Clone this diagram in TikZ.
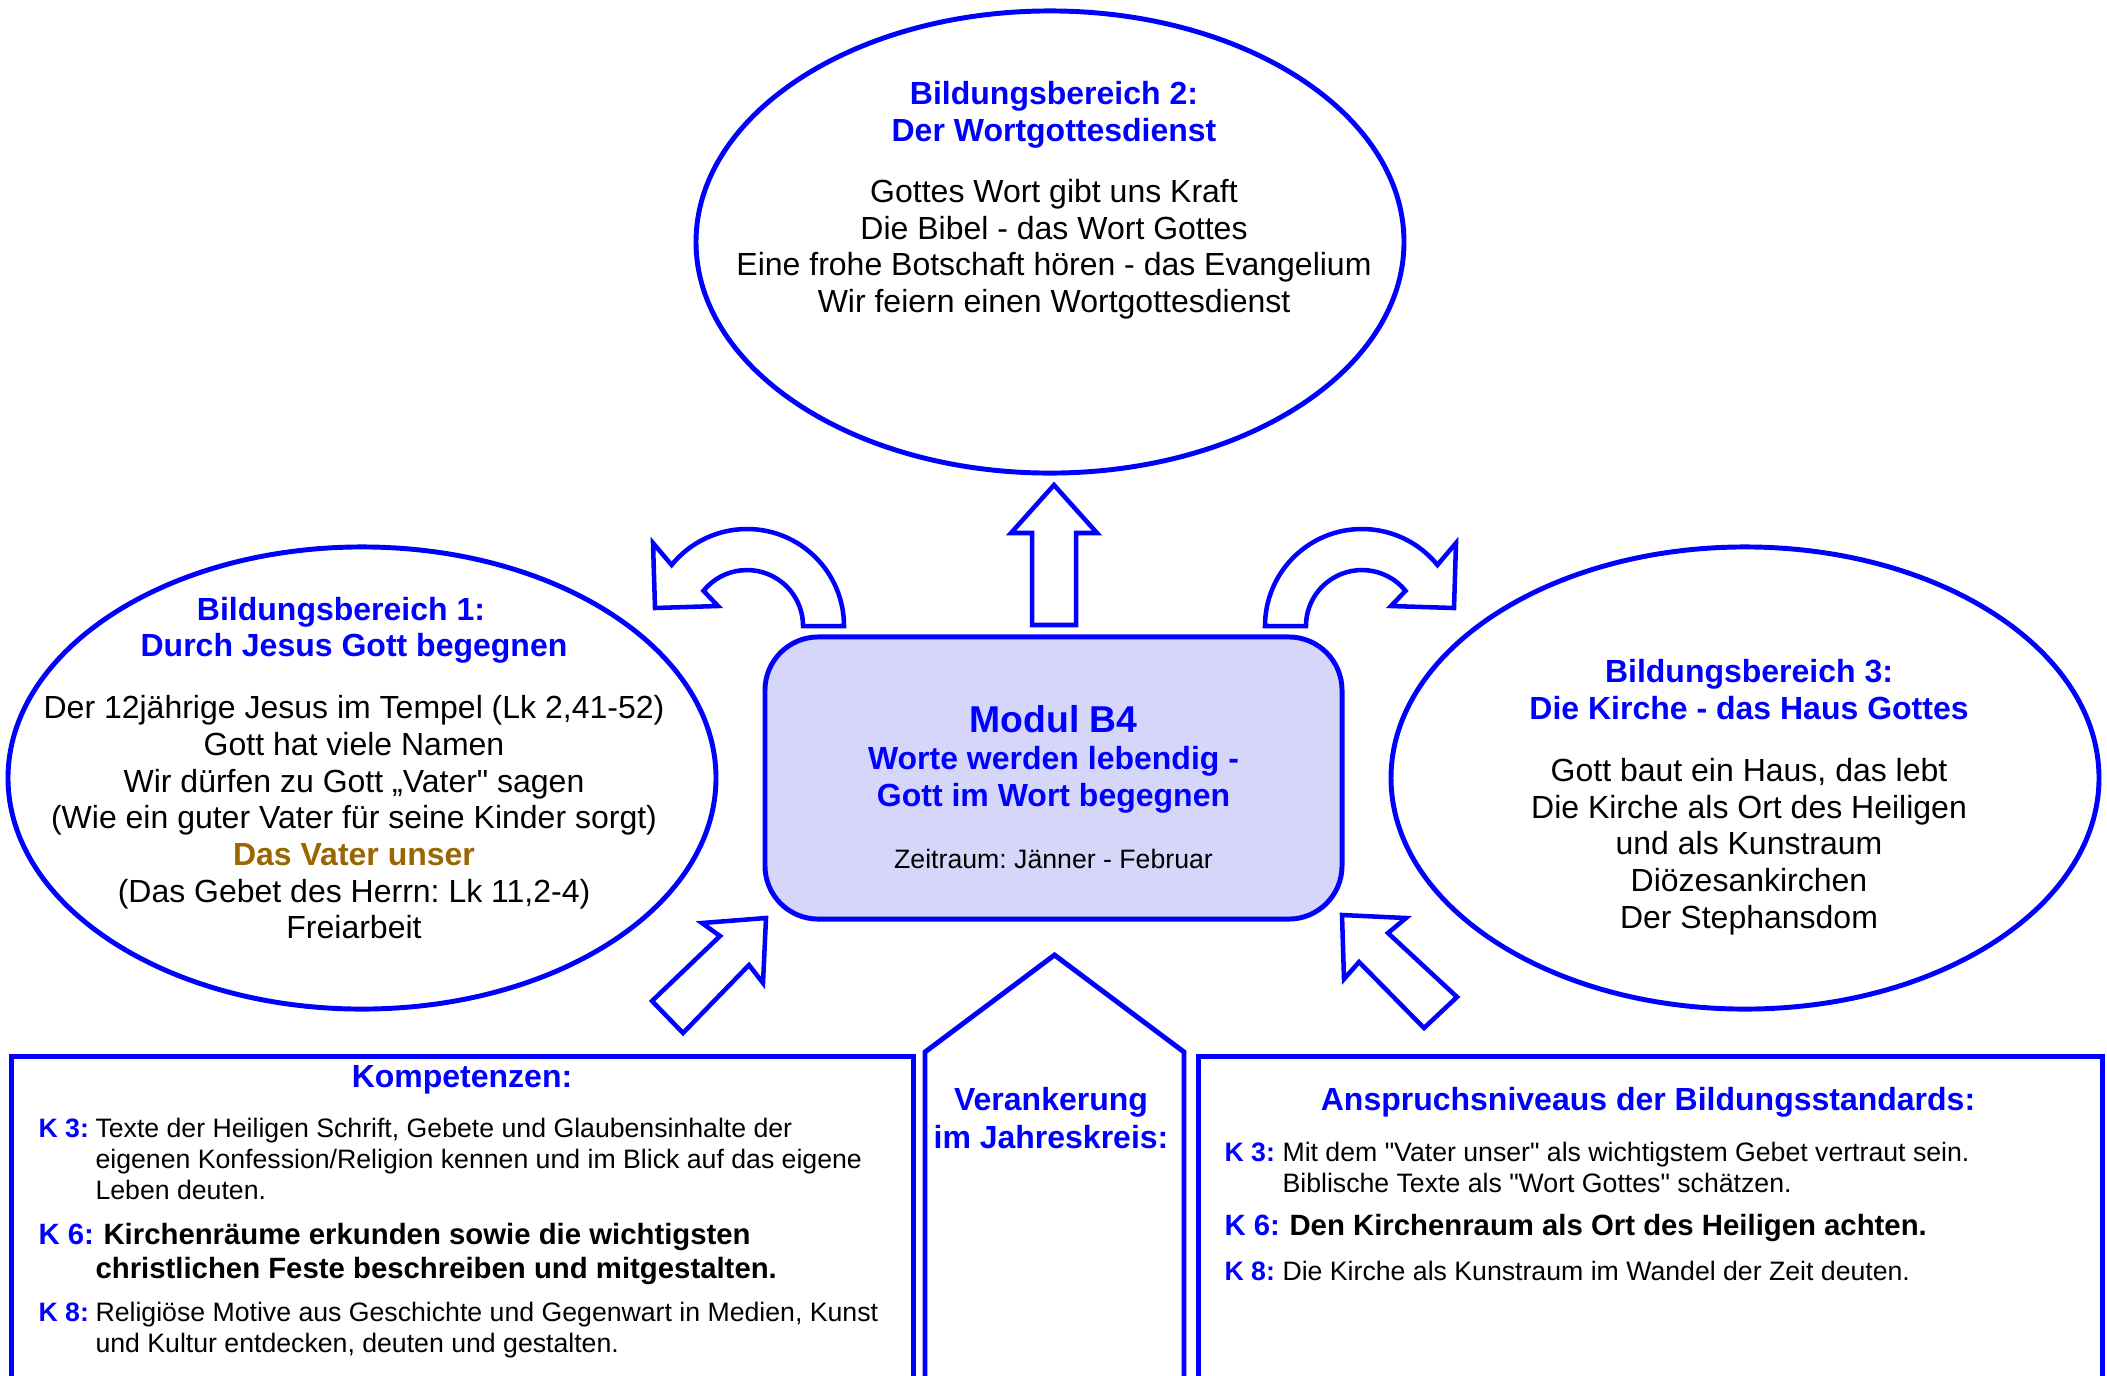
\documentclass[tikz,border=0pt]{standalone}
\usepackage{fontspec}
\setmainfont{Liberation Sans}
\usetikzlibrary{shapes.geometric}
\definecolor{bblue}{RGB}{0,0,255}
\definecolor{bbrown}{RGB}{153,102,0}
\definecolor{modfill}{RGB}{214,214,250}
\newcommand\TxtBody{\fontsize{12}{14}\selectfont}
\newcommand\TxtHead{\fontsize{12}{14}\selectfont\bfseries}
\newcommand\TxtSmall{\fontsize{10}{12}\selectfont}
\newcommand\TxtKey{\fontsize{11}{13}\selectfont\bfseries}
% straight double quote, taken as a glyph so the text mapping keeps it straight
\newcommand\qq{\XeTeXglyph\XeTeXcharglyph"22\relax}
\frenchspacing
\tikzset{
  outline/.style={draw=bblue, line width=1.85pt},
  area/.style={ellipse, outline, inner sep=0pt, minimum width=265.5pt, minimum height=173.3pt},
  blockarrow/.style={outline, line width=1.7pt, fill=white, line join=miter},
  panel/.style={outline, anchor=north west, inner sep=0pt, minimum height=160pt},
  txt/.style={anchor=base, inner sep=0pt, font=\TxtBody},
  head/.style={anchor=base, inner sep=0pt, font=\TxtHead, text=bblue},
  ktxt/.style={anchor=base west, inner sep=0pt, font=\TxtSmall},
  kbold/.style={anchor=base west, inner sep=0pt, font=\TxtKey},
  klabel/.style={anchor=base west, inner sep=0pt, text=bblue, font=\TxtSmall\bfseries},
  klabelbig/.style={anchor=base west, inner sep=0pt, text=bblue, font=\TxtKey},
}
\begin{document}
\begin{tikzpicture}[x=0.375pt, y=-0.375pt]
\useasboundingbox (0,0) rectangle (2107,1375);
\fill[white] (0,0) rectangle (2107,1375);
\clip (0,0) rectangle (2107,1375);

% the three areas of education
\node[area] (bb2) at (1050,242) {};
\node[area] (bb1) at (362,778) {};
\node[area] (bb3) at (1745,778) {};

% the module in the middle
\node[outline, fill=modfill, rounded corners=20pt, inner sep=0pt,
      minimum width=216.4pt, minimum height=105.8pt] (modul) at (1053.5,778) {};

% block arrows around the module
\draw[blockarrow] (1032,625) -- (1032,533) -- (1011,533) -- (1054,485)
  -- (1097,533) -- (1076,533) -- (1076,625) -- cycle;
\draw[blockarrow] (844,626) arc[start angle=0, end angle=-141, radius=97]
  -- (653,543) -- (655,608) -- (718,606) -- (703.5,590.8)
  arc[start angle=-141, end angle=0, radius=56] -- cycle;
\draw[blockarrow] (1265,626) arc[start angle=180, end angle=321, radius=97]
  -- (1456,543) -- (1454,608) -- (1391,606) -- (1405.5,590.8)
  arc[start angle=321, end angle=180, radius=56] -- cycle;
\draw[blockarrow] (766,918) -- (702,923) -- (720,936) -- (652,1001)
  -- (683,1033) -- (749,965) -- (763,983) -- cycle;
\draw[blockarrow] (1342,915) -- (1406,918) -- (1388,933) -- (1457,997)
  -- (1424,1028) -- (1359,962) -- (1344,979) -- cycle;

% lower panels
\node[panel, minimum width=338.3pt] (komp) at (9,1054) {};
\node[panel, minimum width=339pt] (niveau) at (1196,1054) {};
\coordinate (jk-l) at (925,1420);
\coordinate (jk-r) at (1184,1420);
\coordinate (jk-top) at (1054.5,955);
\draw[outline, line join=miter] (jk-l) -- (925,1052) -- (jk-top) -- (1184,1052) -- (jk-r);

% Bildungsbereich 2
\node[head] (bb2-h1) at (1054,104) {Bildungsbereich 2:};
\node[head] (bb2-h2) at (1054,141) {Der Wortgottesdienst};
\foreach \t [count=\i from 0] in {Gottes Wort gibt uns Kraft,
    Die Bibel - das Wort Gottes,
    Eine frohe Botschaft hören - das Evangelium,
    Wir feiern einen Wortgottesdienst}
  \node[txt] (bb2-\i) at (1054,202.5+36.7*\i) {\t};

% Bildungsbereich 1
\node[head] (bb1-h1) at (341,620.5) {Bildungsbereich 1:};
\node[head] (bb1-h2) at (354,656.5) {Durch Jesus Gott begegnen};
\node[txt] (bb1-0) at (354,718.5) {Der 12jährige Jesus im Tempel (Lk 2,41-52)};
\node[txt] (bb1-1) at (354,755) {Gott hat viele Namen};
\node[txt] (bb1-2) at (354,792) {Wir dürfen zu Gott „Vater\qq{} sagen};
\node[txt] (bb1-3) at (354,828.5) {(Wie ein guter Vater für seine Kinder sorgt)};
\node[txt, font=\TxtHead, text=bbrown] (bb1-4) at (354,865) {Das Vater unser};
\node[txt] (bb1-5) at (354,902) {(Das Gebet des Herrn: Lk 11,2-4)};
\node[txt] (bb1-6) at (354,938.5) {Freiarbeit};

% Bildungsbereich 3
\node[head] (bb3-h1) at (1749,682.5) {Bildungsbereich 3:};
\node[head] (bb3-h2) at (1749,719.5) {Die Kirche - das Haus Gottes};
\foreach \t [count=\i from 0] in {Gott baut ein Haus{,} das lebt,
    Die Kirche als Ort des Heiligen,
    und als Kunstraum,
    Diözesankirchen,
    Der Stephansdom}
  \node[txt] (bb3-\i) at (1749,781.5+36.7*\i) {\t};

% module title
\node[head, font=\fontsize{14}{16}\selectfont\bfseries] (mod-1) at (1053.5,732) {Modul B4};
\node[head] (mod-2) at (1053.5,769) {Worte werden lebendig -};
\node[head] (mod-3) at (1053.5,806) {Gott im Wort begegnen};
\node[txt, font=\TxtSmall] (mod-4) at (1053.5,868) {Zeitraum: Jänner - Februar};

% Kompetenzen
\node[head] (komp-h) at (462,1087) {Kompetenzen:};
\node[klabel] (k3) at (38,1137) {K 3:};
\node[ktxt] (k3-1) at (95,1137) {Texte der Heiligen Schrift, Gebete und Glaubensinhalte der};
\node[ktxt] (k3-2) at (95,1168) {eigenen Konfession/Religion kennen und im Blick auf das eigene};
\node[ktxt] (k3-3) at (95,1199) {Leben deuten.};
\node[klabelbig] (k6) at (38,1244) {K 6:};
\node[kbold] (k6-1) at (103,1244) {Kirchenräume erkunden sowie die wichtigsten};
\node[kbold] (k6-2) at (95,1278) {christlichen Feste beschreiben und mitgestalten.};
\node[klabel] (k8) at (38,1321) {K 8:};
\node[ktxt] (k8-1) at (95,1321) {Religiöse Motive aus Geschichte und Gegenwart in Medien, Kunst};
\node[ktxt] (k8-2) at (95,1352) {und Kultur entdecken, deuten und gestalten.};

% Jahreskreis
\node[head] (jk-1) at (1051,1110) {Verankerung};
\node[head] (jk-2) at (1051,1148) {im Jahreskreis:};

% Anspruchsniveaus
\node[head] (niv-h) at (1648,1110) {Anspruchsniveaus der Bildungsstandards:};
\node[klabel] (n3) at (1224,1161) {K 3:};
\node[ktxt] (n3-1) at (1282,1161) {Mit dem \qq{}Vater unser\qq{} als wichtigstem Gebet vertraut sein.};
\node[ktxt] (n3-2) at (1282,1192) {Biblische Texte als \qq{}Wort Gottes\qq{} schätzen.};
\node[klabelbig] (n6) at (1224,1235) {K 6:};
\node[kbold] (n6-1) at (1289,1235) {Den Kirchenraum als Ort des Heiligen achten.};
\node[klabel] (n8) at (1224,1280) {K 8:};
\node[ktxt] (n8-1) at (1282,1280) {Die Kirche als Kunstraum im Wandel der Zeit deuten.};
\end{tikzpicture}
\end{document}
